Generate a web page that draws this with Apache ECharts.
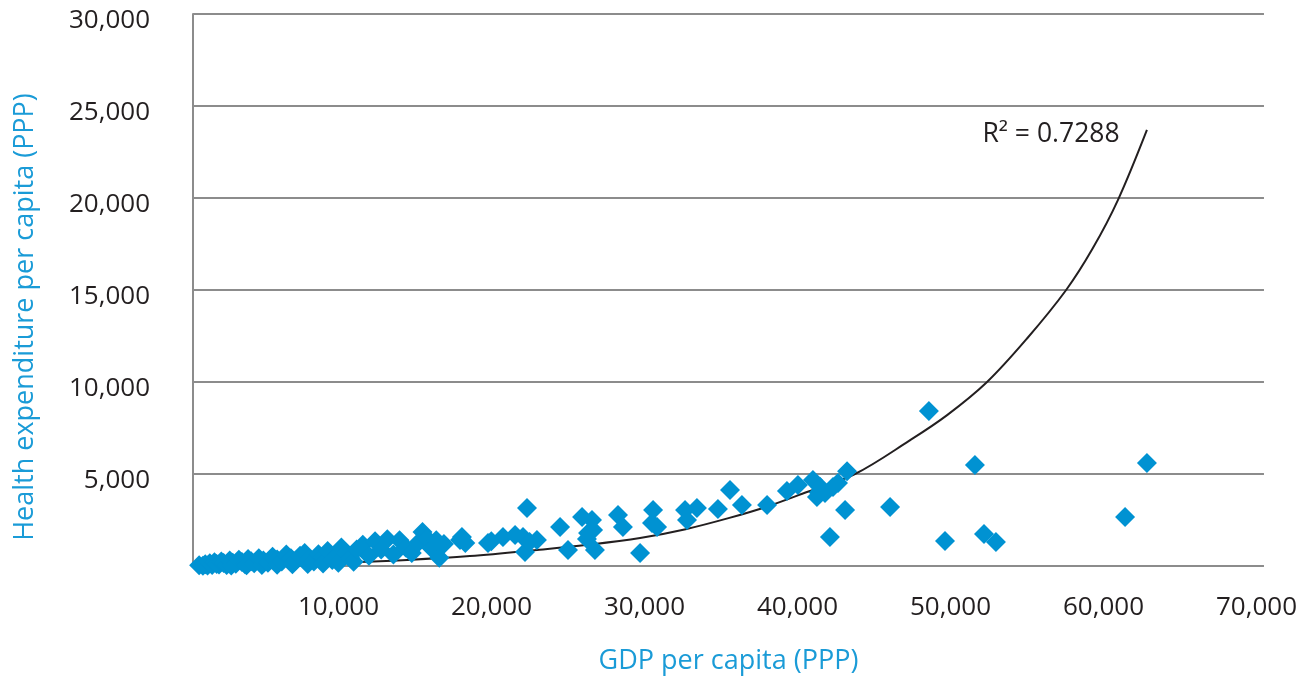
<!DOCTYPE html>
<html>
<head>
<meta charset="utf-8">
<script src="https://cdn.jsdelivr.net/npm/echarts@6/dist/echarts.min.js"></script>
<style>
  html, body { margin: 0; padding: 0; background: #fff; }
  #main { width: 1300px; height: 684px; }
</style>
</head>
<body>
<div id="main"></div>
<script>
// GDP per capita (x) and health expenditure per capita (y)
var gdp = [
  400, 650, 800, 950, 1100, 1250, 1400, 1550, 1700, 1850, 2000, 2200, 2400, 2500, 2600, 2800, 3000, 3200,
  3400, 3500, 3600, 3800, 4000, 4300, 4500, 4600, 4900, 5200, 5500, 5500, 5800, 6100, 6400, 6500, 6700,
  7000, 7300, 7500, 7600, 7900, 8200, 8500, 8500, 8800, 9100, 9400, 9500, 9700, 10000, 10300, 10500,
  10700, 11100, 11500, 11900, 12300, 12700, 13100, 13500, 13900, 14300, 14700, 15000, 15300, 15600,
  15900, 16100, 16400,
  17450, 17580, 17800, 19280, 19500, 20260, 21050, 21570, 21700, 21830, 22000, 22480,
  23990, 24510, 25430, 25750, 25820, 26080, 26150, 26270, 27780, 28100, 29220, 30000, 30070, 30330,
  32160, 32290, 32940, 34310, 35100, 35880, 37520, 38820, 39540, 40520, 40780, 40900, 41000, 41310,
  41630, 41830, 42160, 42620, 42750,
  45560, 48100, 49150, 51110, 51700, 52480, 60920, 62350
];
var health = [
  40, 20, 90, 30, 150, 60, 200, 110, 80, 250, 160, 60, 300, 25, 180, 120, 340, 220,
  90, 40, 380, 260, 150, 420, 60, 300, 180, 500, 350, 70, 240, 620, 420, 90, 280,
  560, 700, 110, 380, 240, 640, 480, 130, 820, 330, 560, 170, 1000, 720, 420, 230,
  900, 1150, 560, 1350, 900, 1450, 620, 1400, 1000, 700, 1250, 1850, 1500, 950,
  1400, 450, 1200,
  1410, 1580, 1250, 1250, 1350, 1580, 1690, 1580, 760, 3150, 1300, 1410,
  2120, 870, 2660, 1470, 1790, 2500, 1960, 870, 2770, 2120, 710, 2340, 3040, 2120,
  3040, 2500, 3150, 3100, 4130, 3320, 3320, 4080, 4400, 4670, 3750, 4000, 4300, 3970,
  1580, 4290, 4510, 3040, 5150,
  3210, 8420, 1360, 5490, 1740, 1300, 2660, 5600
];

// exponential trendline, sampled from the drawn curve
var trendGdp = [600, 5000, 10700, 14000, 18100, 22480, 25800, 29220, 32200, 35000, 37600, 40130, 43270, 46800, 49290, 51900, 54500, 57070, 58800, 60460, 62350];
var trendHealth = [110, 160, 220, 330, 540, 870, 1150, 1520, 2000, 2600, 3250, 4020, 5000, 6800, 8200, 10000, 12350, 15000, 17250, 19900, 23700];

var r2Text = 'R² = 0.7288';
var xName = 'GDP per capita (PPP)';
var yName = 'Health expenditure per capita (PPP)';

var points = [];
for (var i = 0; i < gdp.length; i++) points.push([gdp[i], health[i]]);
var trend = [];
for (var j = 0; j < trendGdp.length; j++) trend.push([trendGdp[j], trendHealth[j]]);

function fmt(v) {//0 is not labelled
  if (v === 0) return '';
  return v.toString().replace(/\B(?=(\d{3})+(?!\d))/g, ',');
}

var myChart = echarts.init(document.getElementById('main'));

var option = {
  backgroundColor: '#fff',
  animation: false,
  textStyle: { fontFamily: 'Open Sans' },
  grid: { left: 193, right: 36, top: 14, bottom: 118 },
  xAxis: {
    type: 'value',
    min: 0,
    max: 70000,
    interval: 10000,
    name: xName,
    nameLocation: 'middle',
    nameGap: 82,
    nameTextStyle: { fontSize: 27, color: '#1a9bd7', fontFamily: 'Open Sans' },
    axisLine: { show: false },
    axisTick: { show: false },
    splitLine: { show: false },
    axisLabel: {
      formatter: fmt,
      fontSize: 26,
      color: '#231f20',
      margin: 29,
      padding: [0, 15, 0, 0],
      fontFamily: 'Open Sans'
    }
  },
  yAxis: {
    type: 'value',
    min: 0,
    max: 30000,
    interval: 5000,
    axisLine: { show: true, lineStyle: { color: '#8c8c8c', width: 2 } },
    axisTick: { show: false },
    splitLine: { show: true, lineStyle: { color: '#8c8c8c', width: 2 } },
    axisLabel: {
      formatter: function (v) {
        var s = fmt(v);
        return s ? '{a|' + s + '}' : '';
      },
      margin: 43,
      rich: {
        a: {
          fontSize: 26,
          color: '#231f20',
          fontFamily: 'Open Sans',
          padding: [14, 0, 0, 0]
        }
      }
    }
  },
  graphic: [
    {
      type: 'text',
      x: 25,
      y: 317,
      rotation: Math.PI / 2,
      style: {
        text: yName,
        fontSize: 27,
        fontFamily: 'Open Sans',
        fill: '#1a9bd7',
        align: 'center',
        verticalAlign: 'middle'
      }
    },
    {
      type: 'text',
      x: 1051,
      y: 134,
      style: {
        text: r2Text,
        fontSize: 26.5,
        fontFamily: 'Open Sans',
        fill: '#231f20',
        align: 'center',
        verticalAlign: 'middle'
      }
    }
  ],
  series: [
    {
      name: 'Trend',
      type: 'line',
      data: trend,
      smooth: 0.35,
      showSymbol: false,
      z: 2,
      lineStyle: { color: '#231f20', width: 2 }
    },
    {
      name: 'Countries',
      type: 'scatter',
      data: points,
      symbol: 'diamond',
      symbolSize: 20,
      z: 3,
      itemStyle: { color: '#0092d2', opacity: 1 }
    }
  ]
};

myChart.setOption(option);
</script>
</body>
</html>
